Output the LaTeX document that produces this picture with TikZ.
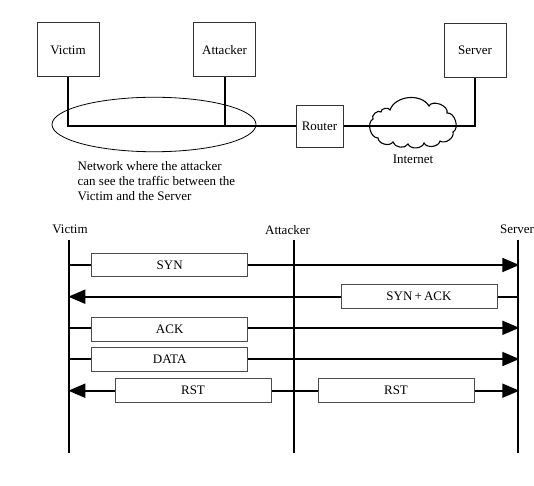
\documentclass[tikz,border=0pt]{standalone}
\usepackage{fontspec}
\setmainfont{Liberation Serif}
\usetikzlibrary{shapes.geometric,arrows.meta}
\begin{document}
\begin{tikzpicture}[x=1bp,y=-1bp,
  every node/.style={font=\fontsize{13bp}{15bp}\selectfont, inner sep=0pt},
  hostbox/.style={draw=black!80, line width=1bp, minimum width=62bp, minimum height=54bp},
  msgbox/.style={draw=black!70, line width=1bp, fill=white, minimum width=156bp, minimum height=23.5bp},
  wire/.style={line width=2bp},
  life/.style={line width=1.9bp},
  msg/.style={line width=1.9bp},
  tip/.tip={Triangle[length=17bp,width=14bp]}
]
\useasboundingbox (0,0) rectangle (534,486);
% ---------- network picture ----------
\node[hostbox] (victim) at (68,50) {Victim};
\node[hostbox] (attacker) at (224.5,50) {Attacker};
\node[hostbox] (server) at (475,50.5) {Server};
\node[draw=black!80, line width=1bp, minimum width=47bp, minimum height=42bp] (router) at (319.5,126.5) {Router};
\node[draw, ellipse, line width=0.8bp, minimum width=204bp, minimum height=54.5bp] (net) at (154,124.5) {};
% cloud
\draw[line width=1.1bp] (378,138) to[bend left=75] (373,119) to[bend left=90] (381,112)
  to[bend left=90] (390,110) to[bend left=65] (429,106) to[bend left=85] (447,113)
  to[bend left=80] (453,132) to[bend left=70] (440,141) to[bend left=70] (424,143)
  to[bend left=70] (408,144) to[bend left=70] (393,142) to[bend left=70] (378,138) -- cycle;
\coordinate (inet) at (413,121.5);
\draw[wire] (victim.south) |- (router.west);
\draw[wire] (attacker.south) -- (attacker.south |- router.west);
\draw[wire] (router.east) -| (server.south);
\node (inettext) at (413,159) {Internet};
\node[align=left, anchor=west] (note) at (77.5,181.5) {Network where the attacker\\can see the traffic between the\\Victim and the Server};
% ---------- sequence chart ----------
\node (lv) at (70,229) {Victim};
\node (la) at (287.5,230) {Attacker};
\node (ls) at (517,229) {Server};
\coordinate (vtop) at (69.3,239.5); \coordinate (vbot) at (69.3,453);
\coordinate (atop) at (294.3,239.5); \coordinate (abot) at (294.3,453);
\coordinate (stop) at (518.3,239.5); \coordinate (sbot) at (518.3,453);
\draw[life] (vtop) -- (vbot);
\draw[life] (atop) -- (abot);
\draw[life] (stop) -- (sbot);
\foreach \n/\y in {1/265,2/296.7,3/327.8,4/359,5/390.7}{
  \coordinate (v\n) at (69.3,\y);
  \coordinate (s\n) at (519.3,\y);
}
\coordinate (v5t) at (68.3,390.7);
\coordinate (v2t) at (68.3,296.7);
\draw[msg,-tip] (v1) -- (s1);
\draw[msg,-tip] (s2) -- (v2t);
\draw[msg,-tip] (v3) -- (s3);
\draw[msg,-tip] (v4) -- (s4);
\draw[msg,tip-tip] (v5t) -- (s5);
\node[msgbox] (syn) at (169.7,265) {SYN};
\node[msgbox] (synack) at (419,296.7) {SYN\,+\,ACK};
\node[msgbox] (ack) at (169.7,329.5) {ACK};
\node[msgbox] (data) at (169.7,359.5) {DATA};
\node[msgbox] (rst1) at (193,390.7) {RST};
\node[msgbox] (rst2) at (396,390.7) {RST};
\end{tikzpicture}
\end{document}
